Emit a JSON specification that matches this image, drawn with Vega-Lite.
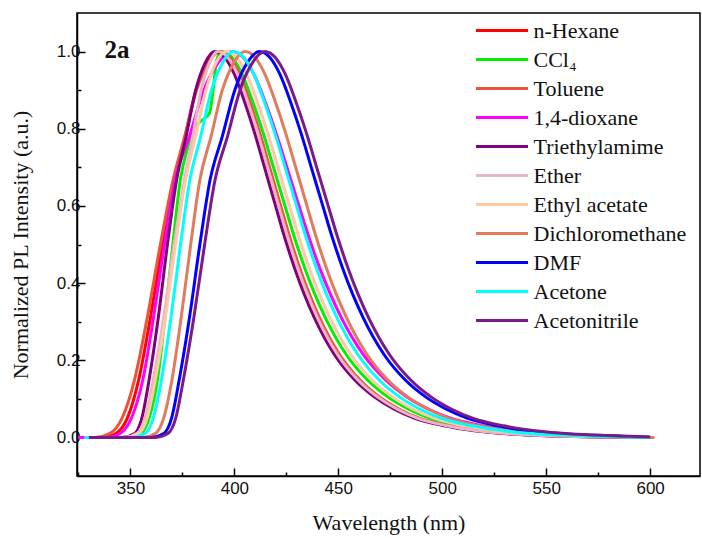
{
  "$schema": "https://vega.github.io/schema/vega-lite/v6.json",
  "width": 623,
  "height": 463,
  "autosize": {"type": "none"},
  "padding": {"left": 77, "top": 13, "right": 2, "bottom": 62},
  "background": "white",
  "config": {"view": {"stroke": "black", "strokeWidth": 1.5}},
  "datasets": {
    "pl": [
      {"s":"n-Hexane","x":325,"y":0},{"s":"n-Hexane","x":337,"y":0},{"s":"n-Hexane","x":343,"y":0.01},{"s":"n-Hexane","x":348.5,"y":0.05},{"s":"n-Hexane","x":354,"y":0.15},{"s":"n-Hexane","x":359.6,"y":0.31},{"s":"n-Hexane","x":365.4,"y":0.5},{"s":"n-Hexane","x":371,"y":0.667},{"s":"n-Hexane","x":376.3,"y":0.78},{"s":"n-Hexane","x":381.5,"y":0.9},{"s":"n-Hexane","x":386.8,"y":0.97},{"s":"n-Hexane","x":392,"y":1},{"s":"n-Hexane","x":396.8,"y":0.985},{"s":"n-Hexane","x":401.6,"y":0.94},{"s":"n-Hexane","x":406.4,"y":0.87},{"s":"n-Hexane","x":411.2,"y":0.79},{"s":"n-Hexane","x":416,"y":0.7},{"s":"n-Hexane","x":420.8,"y":0.61},{"s":"n-Hexane","x":425.6,"y":0.52},{"s":"n-Hexane","x":430.4,"y":0.44},{"s":"n-Hexane","x":435.2,"y":0.37},{"s":"n-Hexane","x":440,"y":0.31},{"s":"n-Hexane","x":449.6,"y":0.215},{"s":"n-Hexane","x":459.2,"y":0.15},{"s":"n-Hexane","x":468.8,"y":0.105},{"s":"n-Hexane","x":478.4,"y":0.073},{"s":"n-Hexane","x":488,"y":0.05},{"s":"n-Hexane","x":502.4,"y":0.03},{"s":"n-Hexane","x":516.8,"y":0.017},{"s":"n-Hexane","x":536,"y":0.008},{"s":"n-Hexane","x":560,"y":0.003},{"s":"n-Hexane","x":584,"y":0.001},{"s":"n-Hexane","x":600,"y":0},

      {"s":"CCl₄","x":328,"y":0},{"s":"CCl₄","x":349,"y":0},{"s":"CCl₄","x":355,"y":0.01},{"s":"CCl₄","x":359,"y":0.05},{"s":"CCl₄","x":363,"y":0.15},{"s":"CCl₄","x":366.6,"y":0.31},{"s":"CCl₄","x":370.4,"y":0.5},{"s":"CCl₄","x":374,"y":0.667},{"s":"CCl₄","x":378,"y":0.76},{"s":"CCl₄","x":380.2,"y":0.8},{"s":"CCl₄","x":384,"y":0.82},{"s":"CCl₄","x":388,"y":0.84},{"s":"CCl₄","x":390,"y":0.91},{"s":"CCl₄","x":391.4,"y":0.975},{"s":"CCl₄","x":393.8,"y":1},{"s":"CCl₄","x":398.8,"y":0.985},{"s":"CCl₄","x":403.8,"y":0.94},{"s":"CCl₄","x":408.8,"y":0.87},{"s":"CCl₄","x":413.8,"y":0.79},{"s":"CCl₄","x":418.8,"y":0.7},{"s":"CCl₄","x":423.8,"y":0.61},{"s":"CCl₄","x":428.8,"y":0.52},{"s":"CCl₄","x":433.8,"y":0.44},{"s":"CCl₄","x":438.8,"y":0.37},{"s":"CCl₄","x":443.8,"y":0.31},{"s":"CCl₄","x":453.8,"y":0.215},{"s":"CCl₄","x":463.8,"y":0.15},{"s":"CCl₄","x":473.8,"y":0.105},{"s":"CCl₄","x":483.8,"y":0.073},{"s":"CCl₄","x":493.8,"y":0.05},{"s":"CCl₄","x":508.8,"y":0.03},{"s":"CCl₄","x":523.8,"y":0.017},{"s":"CCl₄","x":543.8,"y":0.008},{"s":"CCl₄","x":568.8,"y":0.003},{"s":"CCl₄","x":593.8,"y":0.001},{"s":"CCl₄","x":600,"y":0},

      {"s":"Toluene","x":325,"y":0},{"s":"Toluene","x":333,"y":0},{"s":"Toluene","x":340,"y":0.01},{"s":"Toluene","x":346,"y":0.05},{"s":"Toluene","x":352,"y":0.15},{"s":"Toluene","x":358.1,"y":0.31},{"s":"Toluene","x":364.4,"y":0.5},{"s":"Toluene","x":370.5,"y":0.667},{"s":"Toluene","x":376.1,"y":0.78},{"s":"Toluene","x":381.8,"y":0.9},{"s":"Toluene","x":387.4,"y":0.97},{"s":"Toluene","x":393,"y":1},{"s":"Toluene","x":397.8,"y":0.985},{"s":"Toluene","x":402.6,"y":0.94},{"s":"Toluene","x":407.4,"y":0.87},{"s":"Toluene","x":412.2,"y":0.79},{"s":"Toluene","x":417,"y":0.7},{"s":"Toluene","x":421.8,"y":0.61},{"s":"Toluene","x":426.6,"y":0.52},{"s":"Toluene","x":431.4,"y":0.44},{"s":"Toluene","x":436.2,"y":0.37},{"s":"Toluene","x":441,"y":0.31},{"s":"Toluene","x":450.6,"y":0.215},{"s":"Toluene","x":460.2,"y":0.15},{"s":"Toluene","x":469.8,"y":0.105},{"s":"Toluene","x":479.4,"y":0.073},{"s":"Toluene","x":489,"y":0.05},{"s":"Toluene","x":503.4,"y":0.03},{"s":"Toluene","x":517.8,"y":0.017},{"s":"Toluene","x":537,"y":0.008},{"s":"Toluene","x":561,"y":0.003},{"s":"Toluene","x":585,"y":0.001},{"s":"Toluene","x":602,"y":0},

      {"s":"1,4-dioxane","x":325,"y":0},{"s":"1,4-dioxane","x":339,"y":0},{"s":"1,4-dioxane","x":345,"y":0.01},{"s":"1,4-dioxane","x":350.5,"y":0.05},{"s":"1,4-dioxane","x":356,"y":0.15},{"s":"1,4-dioxane","x":361.1,"y":0.31},{"s":"1,4-dioxane","x":366.4,"y":0.5},{"s":"1,4-dioxane","x":371.5,"y":0.667},{"s":"1,4-dioxane","x":378.4,"y":0.78},{"s":"1,4-dioxane","x":385.3,"y":0.9},{"s":"1,4-dioxane","x":392.1,"y":0.97},{"s":"1,4-dioxane","x":399,"y":1},{"s":"1,4-dioxane","x":404.3,"y":0.985},{"s":"1,4-dioxane","x":409.5,"y":0.94},{"s":"1,4-dioxane","x":414.8,"y":0.87},{"s":"1,4-dioxane","x":420,"y":0.79},{"s":"1,4-dioxane","x":425.3,"y":0.7},{"s":"1,4-dioxane","x":430.5,"y":0.61},{"s":"1,4-dioxane","x":435.8,"y":0.52},{"s":"1,4-dioxane","x":441,"y":0.44},{"s":"1,4-dioxane","x":446.3,"y":0.37},{"s":"1,4-dioxane","x":451.5,"y":0.31},{"s":"1,4-dioxane","x":462,"y":0.215},{"s":"1,4-dioxane","x":472.5,"y":0.15},{"s":"1,4-dioxane","x":483,"y":0.105},{"s":"1,4-dioxane","x":493.5,"y":0.073},{"s":"1,4-dioxane","x":504,"y":0.05},{"s":"1,4-dioxane","x":519.8,"y":0.03},{"s":"1,4-dioxane","x":535.5,"y":0.017},{"s":"1,4-dioxane","x":556.5,"y":0.008},{"s":"1,4-dioxane","x":582.8,"y":0.003},{"s":"1,4-dioxane","x":600,"y":0},

      {"s":"Triethylamime","x":330,"y":0},{"s":"Triethylamime","x":346,"y":0},{"s":"Triethylamime","x":352,"y":0.01},{"s":"Triethylamime","x":355.5,"y":0.05},{"s":"Triethylamime","x":359,"y":0.15},{"s":"Triethylamime","x":363.4,"y":0.31},{"s":"Triethylamime","x":367.8,"y":0.5},{"s":"Triethylamime","x":372.2,"y":0.667},{"s":"Triethylamime","x":376.8,"y":0.78},{"s":"Triethylamime","x":381.4,"y":0.9},{"s":"Triethylamime","x":385.9,"y":0.97},{"s":"Triethylamime","x":390.5,"y":1},{"s":"Triethylamime","x":395.3,"y":0.985},{"s":"Triethylamime","x":400.1,"y":0.94},{"s":"Triethylamime","x":404.9,"y":0.87},{"s":"Triethylamime","x":409.7,"y":0.79},{"s":"Triethylamime","x":414.5,"y":0.7},{"s":"Triethylamime","x":419.3,"y":0.61},{"s":"Triethylamime","x":424.1,"y":0.52},{"s":"Triethylamime","x":428.9,"y":0.44},{"s":"Triethylamime","x":433.7,"y":0.37},{"s":"Triethylamime","x":438.5,"y":0.31},{"s":"Triethylamime","x":448.1,"y":0.215},{"s":"Triethylamime","x":457.7,"y":0.15},{"s":"Triethylamime","x":467.3,"y":0.105},{"s":"Triethylamime","x":476.9,"y":0.073},{"s":"Triethylamime","x":486.5,"y":0.05},{"s":"Triethylamime","x":500.9,"y":0.03},{"s":"Triethylamime","x":515.3,"y":0.017},{"s":"Triethylamime","x":534.5,"y":0.008},{"s":"Triethylamime","x":558.5,"y":0.003},{"s":"Triethylamime","x":582.5,"y":0.001},{"s":"Triethylamime","x":600,"y":0},

      {"s":"Ether","x":328,"y":0},{"s":"Ether","x":347,"y":0},{"s":"Ether","x":353,"y":0.01},{"s":"Ether","x":357,"y":0.05},{"s":"Ether","x":361,"y":0.15},{"s":"Ether","x":366,"y":0.31},{"s":"Ether","x":371,"y":0.5},{"s":"Ether","x":376,"y":0.667},{"s":"Ether","x":380,"y":0.78},{"s":"Ether","x":384,"y":0.9},{"s":"Ether","x":388,"y":0.97},{"s":"Ether","x":392,"y":1},{"s":"Ether","x":396.8,"y":0.985},{"s":"Ether","x":401.6,"y":0.94},{"s":"Ether","x":406.4,"y":0.87},{"s":"Ether","x":411.2,"y":0.79},{"s":"Ether","x":416,"y":0.7},{"s":"Ether","x":420.8,"y":0.61},{"s":"Ether","x":425.6,"y":0.52},{"s":"Ether","x":430.4,"y":0.44},{"s":"Ether","x":435.2,"y":0.37},{"s":"Ether","x":440,"y":0.31},{"s":"Ether","x":449.6,"y":0.215},{"s":"Ether","x":459.2,"y":0.15},{"s":"Ether","x":468.8,"y":0.105},{"s":"Ether","x":478.4,"y":0.073},{"s":"Ether","x":488,"y":0.05},{"s":"Ether","x":502.4,"y":0.03},{"s":"Ether","x":516.8,"y":0.017},{"s":"Ether","x":536,"y":0.008},{"s":"Ether","x":560,"y":0.003},{"s":"Ether","x":584,"y":0.001},{"s":"Ether","x":600,"y":0},

      {"s":"Ethyl acetate","x":328,"y":0},{"s":"Ethyl acetate","x":348,"y":0},{"s":"Ethyl acetate","x":354,"y":0.01},{"s":"Ethyl acetate","x":358,"y":0.05},{"s":"Ethyl acetate","x":362,"y":0.15},{"s":"Ethyl acetate","x":366.8,"y":0.31},{"s":"Ethyl acetate","x":371.7,"y":0.5},{"s":"Ethyl acetate","x":376.5,"y":0.667},{"s":"Ethyl acetate","x":381.4,"y":0.78},{"s":"Ethyl acetate","x":386.3,"y":0.9},{"s":"Ethyl acetate","x":391.1,"y":0.97},{"s":"Ethyl acetate","x":396,"y":1},{"s":"Ethyl acetate","x":401,"y":0.985},{"s":"Ethyl acetate","x":406,"y":0.94},{"s":"Ethyl acetate","x":411,"y":0.87},{"s":"Ethyl acetate","x":416,"y":0.79},{"s":"Ethyl acetate","x":421,"y":0.7},{"s":"Ethyl acetate","x":426,"y":0.61},{"s":"Ethyl acetate","x":431,"y":0.52},{"s":"Ethyl acetate","x":436,"y":0.44},{"s":"Ethyl acetate","x":441,"y":0.37},{"s":"Ethyl acetate","x":446,"y":0.31},{"s":"Ethyl acetate","x":456,"y":0.215},{"s":"Ethyl acetate","x":466,"y":0.15},{"s":"Ethyl acetate","x":476,"y":0.105},{"s":"Ethyl acetate","x":486,"y":0.073},{"s":"Ethyl acetate","x":496,"y":0.05},{"s":"Ethyl acetate","x":511,"y":0.03},{"s":"Ethyl acetate","x":526,"y":0.017},{"s":"Ethyl acetate","x":546,"y":0.008},{"s":"Ethyl acetate","x":571,"y":0.003},{"s":"Ethyl acetate","x":596,"y":0.001},{"s":"Ethyl acetate","x":600,"y":0},

      {"s":"Dichloromethane","x":328,"y":0},{"s":"Dichloromethane","x":356,"y":0},{"s":"Dichloromethane","x":362,"y":0.01},{"s":"Dichloromethane","x":366,"y":0.05},{"s":"Dichloromethane","x":370,"y":0.15},{"s":"Dichloromethane","x":374.4,"y":0.31},{"s":"Dichloromethane","x":379,"y":0.5},{"s":"Dichloromethane","x":383.4,"y":0.667},{"s":"Dichloromethane","x":388.8,"y":0.78},{"s":"Dichloromethane","x":394.2,"y":0.9},{"s":"Dichloromethane","x":399.6,"y":0.97},{"s":"Dichloromethane","x":405,"y":1},{"s":"Dichloromethane","x":409.9,"y":0.985},{"s":"Dichloromethane","x":414.8,"y":0.94},{"s":"Dichloromethane","x":419.7,"y":0.87},{"s":"Dichloromethane","x":424.6,"y":0.79},{"s":"Dichloromethane","x":429.5,"y":0.7},{"s":"Dichloromethane","x":434.4,"y":0.61},{"s":"Dichloromethane","x":439.3,"y":0.52},{"s":"Dichloromethane","x":444.2,"y":0.44},{"s":"Dichloromethane","x":449.1,"y":0.37},{"s":"Dichloromethane","x":454,"y":0.31},{"s":"Dichloromethane","x":463.8,"y":0.215},{"s":"Dichloromethane","x":473.6,"y":0.15},{"s":"Dichloromethane","x":483.4,"y":0.105},{"s":"Dichloromethane","x":493.2,"y":0.073},{"s":"Dichloromethane","x":503,"y":0.05},{"s":"Dichloromethane","x":517.7,"y":0.03},{"s":"Dichloromethane","x":532.4,"y":0.017},{"s":"Dichloromethane","x":552,"y":0.008},{"s":"Dichloromethane","x":576.5,"y":0.003},{"s":"Dichloromethane","x":602,"y":0},

      {"s":"DMF","x":330,"y":0},{"s":"DMF","x":360,"y":0},{"s":"DMF","x":366,"y":0.01},{"s":"DMF","x":369.8,"y":0.05},{"s":"DMF","x":373.5,"y":0.15},{"s":"DMF","x":378.4,"y":0.31},{"s":"DMF","x":383.4,"y":0.5},{"s":"DMF","x":388.3,"y":0.667},{"s":"DMF","x":394.2,"y":0.78},{"s":"DMF","x":400.2,"y":0.9},{"s":"DMF","x":406.1,"y":0.97},{"s":"DMF","x":412,"y":1},{"s":"DMF","x":417,"y":0.985},{"s":"DMF","x":422,"y":0.94},{"s":"DMF","x":427,"y":0.87},{"s":"DMF","x":432,"y":0.79},{"s":"DMF","x":437,"y":0.7},{"s":"DMF","x":442,"y":0.61},{"s":"DMF","x":447,"y":0.52},{"s":"DMF","x":452,"y":0.44},{"s":"DMF","x":457,"y":0.37},{"s":"DMF","x":462,"y":0.31},{"s":"DMF","x":472,"y":0.215},{"s":"DMF","x":482,"y":0.15},{"s":"DMF","x":492,"y":0.105},{"s":"DMF","x":502,"y":0.073},{"s":"DMF","x":512,"y":0.05},{"s":"DMF","x":527,"y":0.03},{"s":"DMF","x":542,"y":0.017},{"s":"DMF","x":562,"y":0.008},{"s":"DMF","x":587,"y":0.003},{"s":"DMF","x":600,"y":0},

      {"s":"Acetone","x":328,"y":0},{"s":"Acetone","x":351,"y":0},{"s":"Acetone","x":357,"y":0.01},{"s":"Acetone","x":361,"y":0.05},{"s":"Acetone","x":365,"y":0.15},{"s":"Acetone","x":369.5,"y":0.31},{"s":"Acetone","x":374.1,"y":0.5},{"s":"Acetone","x":378.6,"y":0.667},{"s":"Acetone","x":383.8,"y":0.78},{"s":"Acetone","x":389,"y":0.9},{"s":"Acetone","x":394.2,"y":0.97},{"s":"Acetone","x":399.4,"y":1},{"s":"Acetone","x":404.4,"y":0.985},{"s":"Acetone","x":409.4,"y":0.94},{"s":"Acetone","x":414.4,"y":0.87},{"s":"Acetone","x":419.4,"y":0.79},{"s":"Acetone","x":424.4,"y":0.7},{"s":"Acetone","x":429.4,"y":0.61},{"s":"Acetone","x":434.4,"y":0.52},{"s":"Acetone","x":439.4,"y":0.44},{"s":"Acetone","x":444.4,"y":0.37},{"s":"Acetone","x":449.4,"y":0.31},{"s":"Acetone","x":459.4,"y":0.215},{"s":"Acetone","x":469.4,"y":0.15},{"s":"Acetone","x":479.4,"y":0.105},{"s":"Acetone","x":489.4,"y":0.073},{"s":"Acetone","x":499.4,"y":0.05},{"s":"Acetone","x":514.4,"y":0.03},{"s":"Acetone","x":529.4,"y":0.017},{"s":"Acetone","x":549.4,"y":0.008},{"s":"Acetone","x":574.4,"y":0.003},{"s":"Acetone","x":600,"y":0},

      {"s":"Acetonitrile","x":330,"y":0},{"s":"Acetonitrile","x":362,"y":0},{"s":"Acetonitrile","x":368,"y":0.01},{"s":"Acetonitrile","x":371.8,"y":0.05},{"s":"Acetonitrile","x":375.5,"y":0.15},{"s":"Acetonitrile","x":380.5,"y":0.31},{"s":"Acetonitrile","x":385.7,"y":0.5},{"s":"Acetonitrile","x":390.7,"y":0.667},{"s":"Acetonitrile","x":396.7,"y":0.78},{"s":"Acetonitrile","x":402.7,"y":0.9},{"s":"Acetonitrile","x":408.6,"y":0.97},{"s":"Acetonitrile","x":414.6,"y":1},{"s":"Acetonitrile","x":419.6,"y":0.985},{"s":"Acetonitrile","x":424.6,"y":0.94},{"s":"Acetonitrile","x":429.6,"y":0.87},{"s":"Acetonitrile","x":434.6,"y":0.79},{"s":"Acetonitrile","x":439.6,"y":0.7},{"s":"Acetonitrile","x":444.6,"y":0.61},{"s":"Acetonitrile","x":449.6,"y":0.52},{"s":"Acetonitrile","x":454.6,"y":0.44},{"s":"Acetonitrile","x":459.6,"y":0.37},{"s":"Acetonitrile","x":464.6,"y":0.31},{"s":"Acetonitrile","x":474.6,"y":0.215},{"s":"Acetonitrile","x":484.6,"y":0.15},{"s":"Acetonitrile","x":494.6,"y":0.105},{"s":"Acetonitrile","x":504.6,"y":0.073},{"s":"Acetonitrile","x":514.6,"y":0.05},{"s":"Acetonitrile","x":529.6,"y":0.03},{"s":"Acetonitrile","x":544.6,"y":0.017},{"s":"Acetonitrile","x":564.6,"y":0.008},{"s":"Acetonitrile","x":589.6,"y":0.003},{"s":"Acetonitrile","x":600,"y":0.001}
    ]
  },
  "layer": [
    {
      "data": {"name": "pl"},
      "mark": {"type": "line", "strokeWidth": 3, "interpolate": "monotone"},
      "encoding": {
        "x": {
          "field": "x", "type": "quantitative",
          "scale": {"domain": [324.3, 624], "nice": false, "zero": false},
          "axis": {
            "title": "Wavelength (nm)",
            "values": [325, 350, 375, 400, 425, 450, 475, 500, 525, 550, 575, 600],
            "labelExpr": "datum.value % 50 === 0 ? datum.label : ''",
            "format": "d",
            "grid": false,
            "domainColor": "black", "domainWidth": 1.5,
            "tickColor": "black", "tickWidth": 1.5,
            "tickSize": {"condition": {"test": "datum.value % 50 === 0", "value": -8}, "value": -4},
            "labelFont": "Liberation Sans", "labelFontSize": 17, "labelColor": "#111",
            "labelPadding": 12,
            "titleFont": "Liberation Serif", "titleFontSize": 22, "titleFontWeight": "normal", "titleColor": "#111",
            "titlePadding": 16
          }
        },
        "y": {
          "field": "y", "type": "quantitative",
          "scale": {"domain": [-0.1, 1.1], "nice": false, "zero": false},
          "axis": {
            "title": "Normalized PL Intensity (a.u.)",
            "values": [0, 0.1, 0.2, 0.3, 0.4, 0.5, 0.6, 0.7, 0.8, 0.9, 1.0],
            "labelExpr": "round(datum.value * 10) % 2 === 0 ? format(datum.value, '.1f') : ''",
            "grid": false,
            "domainColor": "black", "domainWidth": 1.5,
            "tickColor": "black", "tickWidth": 1.5,
            "tickSize": {"condition": {"test": "round(datum.value * 10) % 2 === 0", "value": -8}, "value": -4},
            "labelFont": "Liberation Sans", "labelFontSize": 17, "labelColor": "#111",
            "labelPadding": 5,
            "titleFont": "Liberation Serif", "titleFontSize": 22, "titleFontWeight": "normal", "titleColor": "#111",
            "titlePadding": 24
          }
        },
        "color": {
          "field": "s", "type": "nominal", "sort": null,
          "scale": {
            "domain": ["n-Hexane", "CCl₄", "Toluene", "1,4-dioxane", "Triethylamime", "Ether", "Ethyl acetate", "Dichloromethane", "DMF", "Acetone", "Acetonitrile"],
            "range": ["#FF0000", "#00F000", "#E8553A", "#FF00FF", "#7F007F", "#E8B4C6", "#FFC8A6", "#E07B5C", "#0000FF", "#00FFFF", "#7A1A8A"]
          },
          "legend": {
            "orient": "none", "legendX": 410.5, "legendY": 3,
            "title": null, "padding": 0,
            "symbolType": "M-2,0L2,0", "symbolSize": 676, "symbolStrokeWidth": 3,
            "labelFont": "Liberation Serif", "labelFontSize": 22, "labelColor": "#111",
            "labelOffset": 17, "rowPadding": 3, "labelLimit": 300
          }
        }
      }
    },
    {
      "data": {"values": [{}]},
      "mark": {"type": "text", "text": "2a", "font": "Liberation Serif", "fontWeight": "bold", "fontSize": 25, "align": "left", "baseline": "middle", "color": "#111"},
      "encoding": {
        "x": {"datum": 337.5, "type": "quantitative"},
        "y": {"datum": 1.005, "type": "quantitative"}
      }
    }
  ]
}
